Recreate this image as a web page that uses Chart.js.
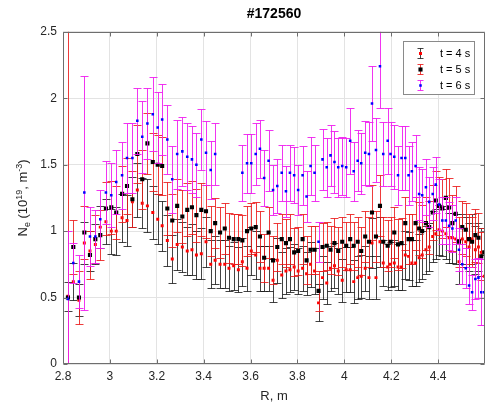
<!DOCTYPE html>
<html>
<head>
<meta charset="utf-8">
<script src="https://cdn.jsdelivr.net/npm/chart.js@4/dist/chart.umd.min.js"></script>
<style>
html,body{margin:0;padding:0;background:#fff;}
canvas{display:block;}
</style>
</head>
<body>
<canvas id="c" width="491" height="406"></canvas>
<script>
// ---------------- DATA ----------------
const chartTitle = '#172560';
const xTitle = 'R, m';
const seriesLabels = ['t = 4 s', 't = 5 s', 't = 6 s'];
const xTicks = [2.8, 3, 3.2, 3.4, 3.6, 3.8, 4, 4.2, 4.4];
const yTicks = [0, 0.5, 1, 1.5, 2, 2.5];

const R = [
 2.821, 2.844, 2.868, 2.891, 2.915, 2.938, 2.959, 2.983, 3.006, 3.027,
 3.052, 3.073, 3.096, 3.117, 3.138, 3.160, 3.183, 3.204, 3.223, 3.245,
 3.266, 3.287, 3.309, 3.330, 3.350, 3.369, 3.390, 3.410, 3.430, 3.449,
 3.470, 3.490, 3.508, 3.528, 3.548, 3.565, 3.585, 3.603, 3.622, 3.640,
 3.658, 3.677, 3.696, 3.714, 3.733, 3.751, 3.768, 3.786, 3.803, 3.822,
 3.839, 3.856, 3.873, 3.890, 3.907, 3.925, 3.941, 3.958, 3.974, 3.991,
 4.008, 4.025, 4.040, 4.057, 4.072, 4.089, 4.105, 4.118, 4.135, 4.152,
 4.166, 4.185, 4.197, 4.213, 4.229, 4.244, 4.260, 4.274, 4.288, 4.304,
 4.319, 4.332, 4.348, 4.362, 4.377, 4.390, 4.404, 4.418, 4.433, 4.447,
 4.461, 4.475, 4.489, 4.503, 4.518, 4.532, 4.545, 4.559, 4.572, 4.584, 4.597
];

const ne4 = [
 0.51, 0.62, 0.48, 0.91, 0.85, 0.90, 1.03, 1.07, 1.00, 1.00,
 1.10, 1.08, 1.22, 1.31, 1.21, 1.19, 1.14, 1.09, 1.04, 0.93,
 0.79, 0.90, 0.88, 0.85, 0.86, 0.82, 0.83, 0.92, 0.75, 0.78,
 0.75, 0.75, 0.72, 0.74, 0.71, 0.77, 0.72, 0.85, 0.82, 0.72,
 0.72, 0.72, 0.63, 0.78, 0.67, 0.70, 0.71, 0.73, 0.70, 0.72,
 0.68, 0.75, 0.70, 0.46, 0.65, 0.61, 0.72, 0.74, 0.70, 0.63,
 0.71, 0.71, 0.62, 0.65, 0.66, 0.72, 0.65, 0.91, 0.65, 0.92,
 0.76, 0.73, 0.75, 0.76, 0.73, 0.73, 0.82, 0.81, 0.76, 0.76,
 0.80, 0.82, 0.86, 0.88, 0.96, 0.98, 1.01, 1.00, 0.98, 0.95,
 0.95, 0.94, 0.77, 0.94, 0.92, 0.88, 0.94, 0.86, 0.88, 0.84, 0.66
];
const err4 = [
 0.11, 0.14, 0.12, 0.16, 0.15, 0.15, 0.16, 0.17, 0.17, 0.18,
 0.18, 0.19, 0.19, 0.20, 0.19, 0.20, 0.20, 0.19, 0.19, 0.19,
 0.18, 0.19, 0.19, 0.18, 0.19, 0.18, 0.19, 0.19, 0.18, 0.18,
 0.18, 0.18, 0.17, 0.18, 0.17, 0.18, 0.17, 0.18, 0.18, 0.17,
 0.17, 0.17, 0.16, 0.17, 0.17, 0.17, 0.17, 0.17, 0.17, 0.17,
 0.16, 0.17, 0.17, 0.14, 0.16, 0.16, 0.17, 0.17, 0.17, 0.16,
 0.17, 0.17, 0.16, 0.16, 0.16, 0.17, 0.16, 0.19, 0.16, 0.19,
 0.17, 0.17, 0.17, 0.17, 0.17, 0.17, 0.18, 0.18, 0.17, 0.17,
 0.18, 0.18, 0.18, 0.18, 0.19, 0.19, 0.19, 0.19, 0.19, 0.19,
 0.19, 0.19, 0.17, 0.19, 0.19, 0.18, 0.19, 0.18, 0.18, 0.18, 0.16
];

const ne5 = [
 0.50, 0.88, 0.50, 0.99, 0.82, 0.94, 0.97, 1.17, 1.18, 1.14,
 1.28, 1.34, 1.24, 1.58, 1.39, 1.66, 1.52, 1.50, 1.49, 1.17,
 1.08, 1.19, 1.11, 1.16, 1.18, 1.12, 1.16, 1.15, 1.00, 1.06,
 0.99, 1.02, 0.95, 0.94, 0.94, 0.93, 1.00, 1.02, 1.03, 0.96,
 0.80, 0.99, 0.78, 0.88, 0.94, 0.91, 0.94, 0.84, 0.85, 0.94,
 0.78, 0.86, 0.86, 0.55, 0.88, 0.89, 0.86, 0.91, 0.85, 0.92,
 0.89, 0.94, 0.89, 0.92, 0.85, 0.96, 0.92, 1.14, 0.96, 1.19,
 0.92, 0.89, 0.92, 0.99, 0.90, 0.91, 1.06, 0.94, 0.94, 1.06,
 1.02, 1.00, 1.06, 1.03, 1.14, 1.23, 1.19, 1.17, 1.25, 1.18,
 1.06, 1.13, 0.92, 1.03, 1.01, 0.94, 0.92, 0.97, 0.95, 0.81, 0.84
];
const err5 = [
 2.40, 0.20, 0.20, 0.20, 0.18, 0.18, 0.19, 0.20, 0.20, 0.20,
 0.21, 0.21, 0.21, 0.22, 0.22, 0.23, 0.22, 0.22, 0.22, 0.20,
 0.20, 0.20, 0.20, 0.20, 0.20, 0.20, 0.20, 0.20, 0.19, 0.19,
 0.19, 0.19, 0.19, 0.19, 0.19, 0.19, 0.19, 0.19, 0.19, 0.19,
 0.18, 0.19, 0.18, 0.18, 0.19, 0.18, 0.19, 0.18, 0.18, 0.19,
 0.18, 0.18, 0.18, 0.15, 0.18, 0.18, 0.18, 0.19, 0.18, 0.19,
 0.18, 0.19, 0.18, 0.19, 0.18, 0.19, 0.19, 0.21, 0.19, 0.23,
 0.19, 0.19, 0.19, 0.19, 0.19, 0.19, 0.20, 0.19, 0.19, 0.20,
 0.20, 0.20, 0.20, 0.20, 0.21, 0.22, 0.22, 0.22, 0.22, 0.22,
 0.21, 0.21, 0.19, 0.20, 0.20, 0.19, 0.19, 0.20, 0.19, 0.18, 0.18
];

const ne6 = [
 0.49, 0.76, 0.62, 1.29, 0.96, 0.96, 1.09, 1.29, 1.27, 1.37,
 1.42, 1.55, 1.55, 1.83, 1.71, 1.81, 1.88, 1.78, 1.84, 1.69,
 1.39, 1.58, 1.60, 1.56, 1.54, 1.50, 1.69, 1.59, 1.46, 1.58,
 null, null, null, null, null,
 1.44, 1.51, 1.51, 1.58, 1.62, 1.40, 1.53, 1.31, 1.34, 1.44,
 1.30, 1.44, 1.42, 1.31, 1.42, 1.26, 1.49, 1.44, 0.92, 1.54,
 1.48, 1.57, 1.52, 1.48, 1.49, 1.48, 1.68, 1.45, 1.53, 1.51,
 1.59, 1.58, 1.96, 1.61, 2.24, 1.58, 1.68, 1.58, 1.56, 1.42,
 1.55, 1.55, 1.42, 1.45, 1.49, 1.28, 1.27, 1.33, 1.22, 1.28,
 1.35, 1.20, 1.08, 1.08, 1.04, 1.02, 1.08, 0.86, 0.75, 0.72,
 0.59, 0.54, 0.64, 0.65, 0.54, 0.54
];
const err6 = [
 0.51, 0.15, 0.20, 0.88, 0.22, 0.20, 0.22, 0.24, 0.24, 0.24,
 0.25, 0.26, 0.26, 0.25, 0.27, 0.27, 0.28, 0.27, 0.27, 0.26,
 0.25, 0.26, 0.26, 0.25, 0.25, 0.24, 0.23, 0.24, 0.22, 0.23,
 null, null, null, null, null,
 0.21, 0.22, 0.22, 0.23, 0.22, 0.21, 0.23, 0.19, 0.20, 0.21,
 0.19, 0.21, 0.21, 0.19, 0.22, 0.19, 0.22, 0.21, 0.15, 0.23,
 0.22, 0.23, 0.23, 0.22, 0.22, 0.22, 0.25, 0.22, 0.23, 0.23,
 0.24, 0.24, 0.28, 0.24, 0.31, 0.24, 0.25, 0.24, 0.24, 0.22,
 0.24, 0.24, 0.22, 0.22, 0.23, 0.20, 0.20, 0.21, 0.19, 0.20,
 0.21, 0.19, 0.18, 0.18, 0.18, 0.18, 0.18, 0.16, 0.15, 0.15,
 0.14, 0.13, 0.15, 0.15, 0.25, 0.25
];

// ---------------- STYLE ----------------
const FONT = "'Liberation Sans', Arial, Helvetica, sans-serif";
const TXT = '#262626';
const AXIS = '#6e6e6e';
const GRID = '#e3e3e3';
const CAP = 4;

const styles = [
  {marker: '#ff0000', bar: 'rgba(20,20,20,0.8)',  radius: 2.1},
  {marker: '#000000', bar: 'rgba(235,25,25,0.85)', radius: 2.9},
  {marker: '#0000ff', bar: 'rgba(240,30,240,0.9)', radius: 1.8}
];

const toPts = (vals) => R.map((r, i) => ({x: r, y: vals[i]}));

const datasets = [ne4, ne5, ne6].map((vals, k) => ({
  label: seriesLabels[k],
  data: toPts(vals),
  errors: [err4, err5, err6][k],
  barColor: styles[k].bar,
  showLine: false,
  pointStyle: 'rect',
  pointRadius: styles[k].radius,
  pointHoverRadius: styles[k].radius,
  pointBorderWidth: 0,
  pointBackgroundColor: styles[k].marker,
  pointBorderColor: styles[k].marker,
  order: 3 - k
}));

function crisp(v) { return Math.round(v) + 0.5; }

const errorBars = {
  id: 'errorBars',
  beforeDatasetDraw(chart, args) {
    const ds = chart.data.datasets[args.index];
    if (!ds.errors) return;
    const ys = chart.scales.y;
    const a = chart.chartArea;
    const ctx = chart.ctx;
    ctx.save();
    ctx.beginPath();
    ctx.rect(a.left, a.top, a.right - a.left, a.bottom - a.top);
    ctx.clip();
    ctx.strokeStyle = ds.barColor;
    ctx.lineWidth = 1;
    ctx.beginPath();
    args.meta.data.forEach((pt, i) => {
      const v = ds.data[i].y, e = ds.errors[i];
      if (v == null || e == null) return;
      const x = crisp(pt.x);
      const yt = crisp(ys.getPixelForValue(v + e));
      const yb = crisp(ys.getPixelForValue(v - e));
      ctx.moveTo(x, yt); ctx.lineTo(x, yb);
      ctx.moveTo(x - CAP, yt); ctx.lineTo(x + CAP, yt);
      ctx.moveTo(x - CAP, yb); ctx.lineTo(x + CAP, yb);
    });
    ctx.stroke();
    ctx.restore();
  }
};

const frame = {
  id: 'frame',
  afterDatasetsDraw(chart) {
    const ctx = chart.ctx, a = chart.chartArea;
    const xs = chart.scales.x, ys = chart.scales.y;
    ctx.save();
    ctx.strokeStyle = AXIS;
    ctx.lineWidth = 1;
    ctx.beginPath();
    const L = crisp(a.left) , Rr = crisp(a.right) - 1, T = crisp(a.top), B = crisp(a.bottom) - 1;
    ctx.rect(L, T, Rr - L, B - T);
    xTicks.forEach(t => {
      const x = crisp(xs.getPixelForValue(t));
      ctx.moveTo(x, B); ctx.lineTo(x, B - 4);
      ctx.moveTo(x, T); ctx.lineTo(x, T + 4);
    });
    yTicks.forEach(t => {
      const y = crisp(ys.getPixelForValue(t));
      ctx.moveTo(L, y); ctx.lineTo(L + 4, y);
      ctx.moveTo(Rr, y); ctx.lineTo(Rr - 4, y);
    });
    ctx.stroke();
    ctx.restore();
  },
  afterDraw(chart) {
    const ctx = chart.ctx, a = chart.chartArea;
    // y-axis title with sub/superscripts
    ctx.save();
    ctx.fillStyle = TXT;
    ctx.textBaseline = 'alphabetic';
    const big = '13px ' + FONT, small = '9px ' + FONT;
    const parts = [
      {t: 'N', f: big, dy: 0},
      {t: 'e', f: small, dy: 3},
      {t: ' (10', f: big, dy: 0},
      {t: '19', f: small, dy: -5},
      {t: ', m', f: big, dy: 0},
      {t: '-3', f: small, dy: -5},
      {t: ')', f: big, dy: 0}
    ];
    let w = 0;
    parts.forEach(p => { ctx.font = p.f; p.w = ctx.measureText(p.t).width; w += p.w; });
    ctx.translate(27, (a.top + a.bottom) / 2);
    ctx.rotate(-Math.PI / 2);
    let x = -w / 2;
    parts.forEach(p => { ctx.font = p.f; ctx.fillText(p.t, x, p.dy); x += p.w; });
    ctx.restore();

    // legend
    ctx.save();
    const bx = 403.5, by = 41.5, bw = 71, bh = 53;
    ctx.fillStyle = '#fff';
    ctx.fillRect(bx, by, bw, bh);
    ctx.strokeStyle = '#8a8a8a';
    ctx.lineWidth = 1;
    ctx.strokeRect(bx, by, bw, bh);
    chart.data.datasets.forEach((ds, k) => {
      const cy = 53.5 + k * 16;
      const cx = 420.5;
      ctx.strokeStyle = ds.barColor;
      ctx.beginPath();
      ctx.moveTo(cx, cy - 5); ctx.lineTo(cx, cy + 5);
      ctx.moveTo(cx - 3, cy - 5); ctx.lineTo(cx + 3, cy - 5);
      ctx.moveTo(cx - 3, cy + 5); ctx.lineTo(cx + 3, cy + 5);
      ctx.stroke();
      const s = ds.pointRadius * Math.SQRT1_2;
      ctx.fillStyle = ds.pointBackgroundColor;
      ctx.fillRect(cx - s, cy - s, 2 * s, 2 * s);
      ctx.fillStyle = '#000';
      ctx.font = '11px ' + FONT;
      ctx.textBaseline = 'middle';
      ctx.textAlign = 'left';
      ctx.fillText(ds.label, 440, cy);
    });
    ctx.restore();
  }
};

new Chart(document.getElementById('c'), {
  type: 'scatter',
  data: {datasets},
  options: {
    responsive: false,
    animation: false,
    events: [],
    layout: {padding: {left: 0, right: 6, top: 0, bottom: 0}},
    plugins: {
      legend: {display: false},
      tooltip: {enabled: false},
      title: {
        display: true, text: chartTitle, color: '#000', fullSize: false,
        font: {family: FONT, size: 14, weight: 'bold'},
        padding: {top: 6, bottom: 9}
      }
    },
    scales: {
      x: {
        type: 'linear', min: 2.8, max: 4.6,
        afterBuildTicks(s) { s.ticks = xTicks.map(v => ({value: v})); },
        afterFit(s) { s.height = 42; },
        ticks: {
          color: TXT, font: {family: FONT, size: 12}, padding: 5,
          callback: v => String(Math.round(v * 10) / 10)
        },
        grid: {color: GRID, drawTicks: false},
        border: {display: false},
        title: {display: true, text: xTitle, color: TXT, font: {family: FONT, size: 13}, padding: {top: 0, bottom: 2}}
      },
      y: {
        type: 'linear', min: 0, max: 2.5,
        afterBuildTicks(s) { s.ticks = yTicks.map(v => ({value: v})); },
        afterFit(s) { s.width = 63; },
        ticks: {
          color: TXT, font: {family: FONT, size: 12}, padding: 6,
          callback: v => String(v)
        },
        grid: {color: GRID, drawTicks: false},
        border: {display: false}
      }
    }
  },
  plugins: [errorBars, frame]
});
</script>
</body>
</html>
